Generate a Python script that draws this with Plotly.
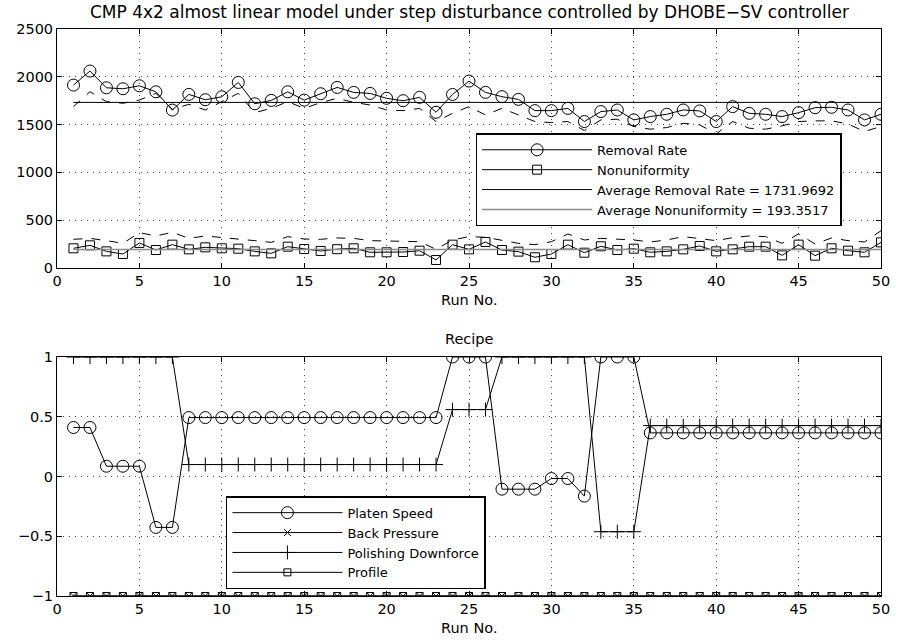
import plotly.graph_objects as go

# ---- data -------------------------------------------------------------
runs = list(range(1, 51))

removal_rate = [1913, 2060, 1885, 1875, 1906, 1843, 1652, 1816, 1760, 1791,
                1941, 1718, 1753, 1843, 1756, 1823, 1889, 1837, 1826, 1775,
                1750, 1785, 1629, 1815, 1955, 1837, 1792, 1764, 1646, 1646,
                1670, 1532, 1636, 1653, 1549, 1584, 1608, 1653, 1643, 1532,
                1688, 1618, 1608, 1584, 1625, 1677, 1681, 1653, 1549, 1608]

removal_rate_dashed = [1688, 1844, 1740, 1723, 1757, 1827, 1660, 1712, 1653, 1740,
                       1827, 1625, 1670, 1740, 1670, 1730, 1775, 1733, 1705, 1653,
                       1646, 1670, 1532, 1618, 1688, 1601, 1670, 1601, 1532, 1521,
                       1532, 1438, 1549, 1556, 1480, 1452, 1469, 1514, 1497, 1403,
                       1532, 1462, 1452, 1487, 1532, 1539, 1539, 1507, 1428, 1480]

nonuniformity = [206, 237, 174, 146, 262, 188, 244, 195, 216, 206,
                 202, 174, 153, 223, 199, 178, 197, 206, 164, 164,
                 167, 181, 84, 244, 195, 272, 188, 171, 112, 146,
                 244, 160, 227, 188, 202, 164, 174, 195, 230, 174,
                 195, 223, 223, 132, 244, 129, 206, 181, 164, 268]

nonuniformity_dashed = [300, 310, 286, 258, 370, 335, 373, 310, 335, 321,
                        300, 286, 268, 328, 303, 300, 314, 310, 286, 279,
                        279, 275, 195, 293, 328, 321, 286, 258, 244, 275,
                        356, 293, 310, 300, 293, 272, 293, 328, 310, 286,
                        317, 335, 328, 258, 356, 251, 314, 286, 272, 390]

avg_removal_rate = 1731.9692
avg_nonuniformity = 193.3517

platen_speed = [0.41, 0.41, 0.086, 0.086, 0.086, -0.426, -0.426] + [0.493] * 16 + \
               [1, 1, 1, -0.106, -0.106, -0.106, -0.017, -0.017, -0.164, 1, 1, 1] + [0.365] * 15
back_pressure = [-1] * 50
polishing_downforce = [1] * 7 + [0.10] * 16 + [0.56, 0.56, 0.56] + [1] * 6 + \
                      [-0.462, -0.462, -0.462] + [0.426] * 15
profile = [-1] * 50

x_ticks = [0, 5, 10, 15, 20, 25, 30, 35, 40, 45, 50]
y1_ticks = [0, 500, 1000, 1500, 2000, 2500]
y2_ticks = [-1, -0.5, 0, 0.5, 1]
y2_ticktext = ["\u22121", "\u22120.5", "0", "0.5", "1"]

FONT = "DejaVu Sans, Liberation Sans, Arial, sans-serif"
BLACK = "black"
GRAY = "#8c8c8c"
TICK_SIZE = 14.5
LEGEND_SIZE = 13

fig = go.Figure()

# ---- top panel --------------------------------------------------------
fig.add_trace(go.Scatter(
    x=runs, y=removal_rate, name="Removal Rate", mode="lines+markers",
    line=dict(color=BLACK, width=1),
    marker=dict(symbol="circle-open", size=12, color=BLACK, line=dict(width=1)),
    xaxis="x", yaxis="y", legend="legend"))
fig.add_trace(go.Scatter(
    x=runs, y=nonuniformity, name="Nonuniformity", mode="lines+markers",
    line=dict(color=BLACK, width=1),
    marker=dict(symbol="square-open", size=9, color=BLACK, line=dict(width=1)),
    xaxis="x", yaxis="y", legend="legend"))
fig.add_trace(go.Scatter(
    x=[runs[0], runs[-1]], y=[avg_removal_rate] * 2,
    name=f"Average Removal Rate = {avg_removal_rate:.4f}", mode="lines",
    line=dict(color=BLACK, width=1),
    xaxis="x", yaxis="y", legend="legend"))
fig.add_trace(go.Scatter(
    x=[runs[0], runs[-1]], y=[avg_nonuniformity] * 2,
    name=f"Average Nonuniformity = {avg_nonuniformity:.4f}", mode="lines",
    line=dict(color=GRAY, width=1.3),
    xaxis="x", yaxis="y", legend="legend"))
fig.add_trace(go.Scatter(
    x=runs, y=removal_rate_dashed, mode="lines", showlegend=False,
    line=dict(color=BLACK, width=1, dash="9px,9px"),
    xaxis="x", yaxis="y"))
fig.add_trace(go.Scatter(
    x=runs, y=nonuniformity_dashed, mode="lines", showlegend=False,
    line=dict(color=BLACK, width=1, dash="9px,9px"),
    xaxis="x", yaxis="y"))

# ---- bottom panel -----------------------------------------------------
fig.add_trace(go.Scatter(
    x=runs, y=platen_speed, name="Platen Speed", mode="lines+markers",
    line=dict(color=BLACK, width=1),
    marker=dict(symbol="circle-open", size=12, color=BLACK, line=dict(width=1)),
    xaxis="x2", yaxis="y2", legend="legend2"))
fig.add_trace(go.Scatter(
    x=runs, y=back_pressure, name="Back Pressure", mode="lines+markers",
    line=dict(color=BLACK, width=1),
    marker=dict(symbol="x-thin-open", size=7, color=BLACK, line=dict(width=1)),
    xaxis="x2", yaxis="y2", legend="legend2"))
fig.add_trace(go.Scatter(
    x=runs, y=polishing_downforce, name="Polishing Downforce", mode="lines+markers",
    line=dict(color=BLACK, width=1),
    marker=dict(symbol="cross-thin-open", size=10, color=BLACK, line=dict(width=1)),
    xaxis="x2", yaxis="y2", legend="legend2"))
fig.add_trace(go.Scatter(
    x=runs, y=profile, name="Profile", mode="lines+markers",
    line=dict(color=BLACK, width=1),
    marker=dict(symbol="square-open", size=7, color=BLACK, line=dict(width=1)),
    xaxis="x2", yaxis="y2", legend="legend2"))

axis_style = dict(
    showline=True, linecolor=BLACK, linewidth=1, mirror="allticks",
    ticks="inside", ticklen=5, tickcolor=BLACK, tickwidth=1,
    showgrid=True, gridcolor="#444", gridwidth=1, griddash="1px,5px",
    zeroline=False, tickfont=dict(family=FONT, size=TICK_SIZE, color=BLACK),
)

legend_style = dict(
    xanchor="left", yanchor="top", bgcolor="white", bordercolor=BLACK,
    borderwidth=1.5, font=dict(family=FONT, size=LEGEND_SIZE, color=BLACK),
    itemwidth=110, tracegroupgap=0,
)

fig.update_layout(
    width=901, height=642,
    margin=dict(l=57, r=11, t=29, b=46),
    paper_bgcolor="white", plot_bgcolor="white",
    font=dict(family=FONT, size=TICK_SIZE, color=BLACK),
    xaxis=dict(domain=[0, 1], anchor="y", range=[0, 50], tickvals=x_ticks, **axis_style),
    yaxis=dict(domain=[0.5785, 1], anchor="x", range=[0, 2500], tickvals=y1_ticks, **axis_style),
    xaxis2=dict(domain=[0, 1], anchor="y2", range=[0, 50], tickvals=x_ticks, **axis_style),
    yaxis2=dict(domain=[0, 0.4215], anchor="x2", range=[-1, 1], tickvals=y2_ticks,
                ticktext=y2_ticktext, **axis_style),
    legend=dict(x=0.508, y=0.816, **legend_style),
    legend2=dict(x=0.205, y=0.176, **legend_style),
    showlegend=True,
    annotations=[
        dict(text="CMP 4x2 almost linear model under step disturbance controlled by DHOBE\u2212SV controller",
             x=0.5, y=1, xref="paper", yref="paper", xanchor="center", yanchor="bottom",
             yshift=5, showarrow=False, font=dict(family=FONT, size=17, color=BLACK)),
        dict(text="Run No.", x=0.5, y=0.5785, xref="paper", yref="paper",
             xanchor="center", yanchor="top", yshift=-22, showarrow=False,
             font=dict(family=FONT, size=TICK_SIZE, color=BLACK)),
        dict(text="Recipe", x=0.5, y=0.4215, xref="paper", yref="paper",
             xanchor="center", yanchor="bottom", yshift=8, showarrow=False,
             font=dict(family=FONT, size=TICK_SIZE, color=BLACK)),
        dict(text="Run No.", x=0.5, y=0, xref="paper", yref="paper",
             xanchor="center", yanchor="top", yshift=-22, showarrow=False,
             font=dict(family=FONT, size=TICK_SIZE, color=BLACK)),
    ],
)

fig.write_html("out.html")
